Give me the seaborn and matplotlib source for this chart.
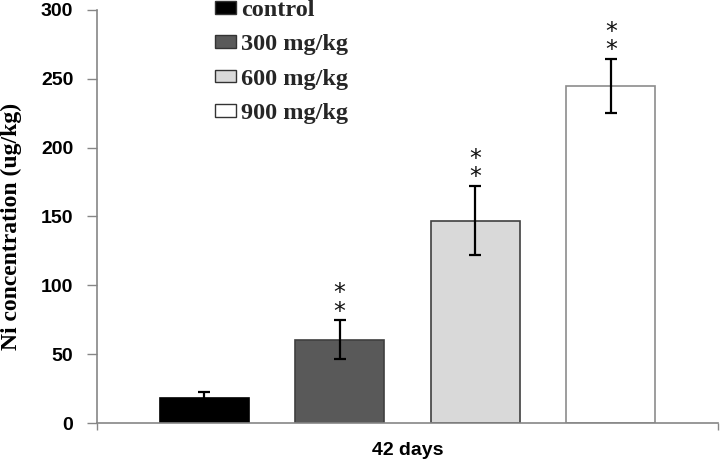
import matplotlib
matplotlib.use("Agg")
import matplotlib.pyplot as plt
import seaborn as sns
import pandas as pd

groups = ["control", "300 mg/kg", "600 mg/kg", "900 mg/kg"]
means = [18, 60.5, 147, 245]
errors = [4.5, 14, 25, 19.5]
stars = ["", "*\n*", "*\n*", "*\n*"]
bar_colors = ["#000000", "#595959", "#d9d9d9", "#ffffff"]
edge_colors = ["#000000", "#3f3f3f", "#404040", "#8c8c8c"]
x_label = "42 days"
y_label = "Ni concentration (ug/kg)"
y_ticks = [0, 50, 100, 150, 200, 250, 300]

df = pd.DataFrame({"group": groups, "value": means})

sns.set_theme(style="white")
plt.rcParams["font.family"] = ["Liberation Sans", "DejaVu Sans"]

fig = plt.figure(figsize=(7.2, 4.65), dpi=100)
ax = fig.add_axes([97 / 720, 42 / 465, 621 / 720, 413 / 465])

sns.barplot(data=df, x="group", y="value", hue="group", order=groups,
            hue_order=groups, palette=dict(zip(groups, bar_colors)),
            width=0.656, errorbar=None, legend=True, ax=ax, saturation=1)

bars = list(ax.patches)[:len(groups)]
for p, ec in zip(bars, edge_colors):
    p.set_edgecolor(ec)
    p.set_linewidth(1.2)

centers = [p.get_x() + p.get_width() / 2 for p in bars]
ax.errorbar(centers, means, yerr=errors, fmt="none", ecolor="black",
            elinewidth=1.6, capsize=4.5, capthick=1.6, zorder=5)

for cx, m, e, s in zip(centers, means, errors, stars):
    if not s:
        continue
    ax.annotate(s, (cx, m + e), xytext=(0, 18), textcoords="offset pixels",
                ha="center", va="center", fontsize=17, linespacing=0.7,
                family="DejaVu Sans", color="#111111")

ax.set_ylim(0, 300)
ax.set_xlim(-0.79, 3.79)
ax.set_yticks(y_ticks)
ax.set_yticklabels([str(t) for t in y_ticks], fontsize=14, fontweight="bold",
                   color="black")
ax.set_xticks([-0.79, 3.79])
ax.set_xticklabels(["", ""])
ax.tick_params(axis="y", direction="out", length=7, width=1, color="#868686",
               pad=10, left=True)
ax.tick_params(axis="x", direction="out", length=5, width=1, color="#868686",
               bottom=True)

for side in ("top", "right"):
    ax.spines[side].set_visible(False)
for side in ("left", "bottom"):
    ax.spines[side].set_color("#868686")
    ax.spines[side].set_linewidth(1.2)

ax.set_xlabel(x_label, fontsize=14, fontweight="bold", color="black")
ax.xaxis.set_label_coords(0.5, -0.045)
ax.set_ylabel(y_label, fontsize=17, fontweight="bold", family="Liberation Serif",
              color="black")
ax.yaxis.set_label_coords(-0.121, 0.477)

handles, labels = ax.get_legend_handles_labels()
for h in handles:
    h.set_edgecolor("#333333")
    h.set_linewidth(1.0)
ax.legend(handles, labels, loc="upper left", bbox_to_anchor=(215 / 720, 1.0),
          bbox_transform=fig.transFigure, frameon=False,
          prop=dict(family="Liberation Serif", weight="bold", size=17.5),
          handlelength=0.85, handleheight=0.42, handletextpad=0.22,
          labelspacing=0.55, borderpad=0, borderaxespad=0)

fig.savefig("out.png", dpi=100)
